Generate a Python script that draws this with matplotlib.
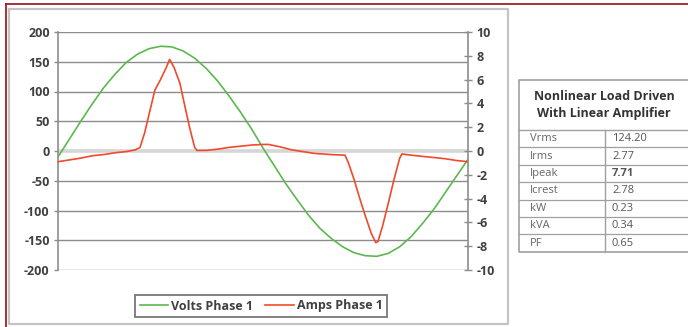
import matplotlib
matplotlib.use("Agg")
import matplotlib.pyplot as plt

plt.rcParams['font.family'] = ['Open Sans', 'DejaVu Sans']
plt.rcParams['axes.unicode_minus'] = False

# phase angle (deg) and readings off the scope capture
volts_deg = [0, 10, 20, 30, 40, 50, 60, 70, 80, 90, 100, 110, 120, 130, 140, 150, 160, 170, 180,
             190, 200, 210, 220, 230, 240, 250, 260, 270, 280, 290, 300, 310, 320, 330, 340, 350, 360]
volts = [-10, 20, 50, 79, 106, 129, 149, 163, 172, 176, 175, 168, 156, 139, 118, 93, 66, 37, 5,
         -25, -55, -82, -108, -130, -147, -161, -171, -176, -177, -172, -161, -144, -122, -98, -70, -42, -14]

amps_deg = [0, 10, 20, 30, 40, 50, 60, 68, 72, 76, 78, 85, 90, 95, 98, 102, 107, 112, 116, 120, 122,
            130, 140, 150, 160, 170, 180, 185, 195, 205, 215, 225, 240, 252, 255, 260, 265, 270, 275,
            279, 281, 285, 290, 295, 300, 302, 310, 320, 330, 340, 350, 360]
amps = [-0.9, -0.75, -0.6, -0.4, -0.3, -0.15, -0.05, 0.1, 0.3, 1.5, 2.3, 5.1, 6.0, 7.0, 7.7, 7.0, 5.7,
        3.5, 1.8, 0.3, 0.05, 0.05, 0.15, 0.3, 0.4, 0.5, 0.55, 0.55, 0.35, 0.1, -0.05, -0.2, -0.3, -0.35,
        -1.0, -2.4, -4.0, -5.5, -6.9, -7.7, -7.6, -6.3, -4.4, -2.4, -0.6, -0.25, -0.35, -0.45, -0.55,
        -0.65, -0.8, -0.9]

volt_ticks = [-200, -150, -100, -50, 0, 50, 100, 150, 200]
amp_ticks = [-10, -8, -6, -4, -2, 0, 2, 4, 6, 8, 10]

table_title = ["Nonlinear Load Driven", "With Linear Amplifier"]
table_labels = ["Vrms", "Irms", "Ipeak", "Icrest", "kW", "kVA", "PF"]
table_values = ["124.20", "2.77", "7.71", "2.78", "0.23", "0.34", "0.65"]

W, H = 688, 327
fig = plt.figure(figsize=(W / 100, H / 100), dpi=100)

# background layer in pixel coords: frames and the table
bg = fig.add_axes([0, 0, 1, 1])
bg.set_xlim(0, W)
bg.set_ylim(H, 0)
bg.axis("off")
bg.plot([6, W + 5], [4, 4], color="#a3202a", lw=1.3)
bg.plot([6, 6], [4, H + 5], color="#a3202a", lw=1.3)
bg.plot([9, 508, 508, 9, 9], [9, 9, 324, 324, 9], color="#c4c4c4", lw=1.6)

# table
grid_c = "#a0a0a0"
t_left, t_top, t_head, row_h = 519, 80, 130, 17.4
n = len(table_labels)
t_bot = t_head + n * row_h
bg.plot([W + 5, t_left, t_left, W + 5], [t_top, t_top, t_bot, t_bot], color=grid_c, lw=1.2)
bg.plot([t_left, W + 5], [t_head, t_head], color=grid_c, lw=1.0)
for i in range(1, n):
    y = t_head + i * row_h
    bg.plot([t_left, W + 5], [y, y], color=grid_c, lw=0.9)
bg.plot([605, 605], [t_head, t_bot], color=grid_c, lw=1.0)
bg.text(604, 96, table_title[0], ha="center", va="center", fontsize=9, fontweight="bold", color="#333333")
bg.text(604, 114, table_title[1], ha="center", va="center", fontsize=9, fontweight="bold", color="#333333")
for i, (lab, val) in enumerate(zip(table_labels, table_values)):
    y = t_head + (i + 0.5) * row_h
    bg.text(530, y, lab, ha="left", va="center", fontsize=8, color="#666666")
    bg.text(612, y, val, ha="left", va="center", fontsize=8, color="#555555",
            fontweight="bold" if lab == "Ipeak" else "normal")

# chart
ax = fig.add_axes([58 / W, 1 - 270 / H, (468 - 58) / W, (270 - 32) / H])
ax.patch.set_alpha(0)
ax.set_xlim(0, 360)
ax.set_ylim(-200, 200)
for v in volt_ticks:
    if v == 0:
        ax.axhline(v, color="#d6d6d6", lw=2.6, zorder=1)
    else:
        ax.axhline(v, color="#8c8c8c", lw=1.0, zorder=1)
line_v, = ax.plot(volts_deg, volts, color="#5cb84e", lw=1.2, zorder=3, label="Volts Phase 1")
ax.set_yticks(volt_ticks)
ax.set_xticks([])
for s in ["top", "bottom", "right"]:
    ax.spines[s].set_visible(False)
ax.spines["left"].set_color("#8c8c8c")
ax.spines["left"].set_linewidth(1.2)
ax.tick_params(axis="y", direction="out", length=3, width=1, color="#8c8c8c", pad=3,
               labelsize=9, labelcolor="#404040")
for t in ax.get_yticklabels():
    t.set_fontweight("bold")

ax2 = ax.twinx()
ax2.set_ylim(-10, 10)
line_a, = ax2.plot(amps_deg, amps, color="#ef4a2c", lw=1.2, zorder=3, label="Amps Phase 1")
ax2.set_yticks(amp_ticks)
for s in ["top", "bottom", "left"]:
    ax2.spines[s].set_visible(False)
ax2.spines["right"].set_color("#8c8c8c")
ax2.spines["right"].set_linewidth(1.2)
ax2.tick_params(axis="y", direction="inout", length=6, width=1, color="#8c8c8c", pad=3,
                labelsize=9, labelcolor="#404040")
for t in ax2.get_yticklabels():
    t.set_fontweight("bold")

leg = fig.legend([line_v, line_a], ["Volts Phase 1", "Amps Phase 1"], loc="center",
                 bbox_to_anchor=(261 / W, 1 - 306 / H), ncol=2, frameon=True, fancybox=False,
                 handlelength=2.3, handletextpad=0.2, columnspacing=1.0, borderpad=0.35,
                 prop={"size": 9, "weight": "bold"})
leg.get_frame().set_edgecolor("#555555")
leg.get_frame().set_linewidth(1.3)
for t in leg.get_texts():
    t.set_color("#404040")

fig.savefig("out.png", dpi=100)
